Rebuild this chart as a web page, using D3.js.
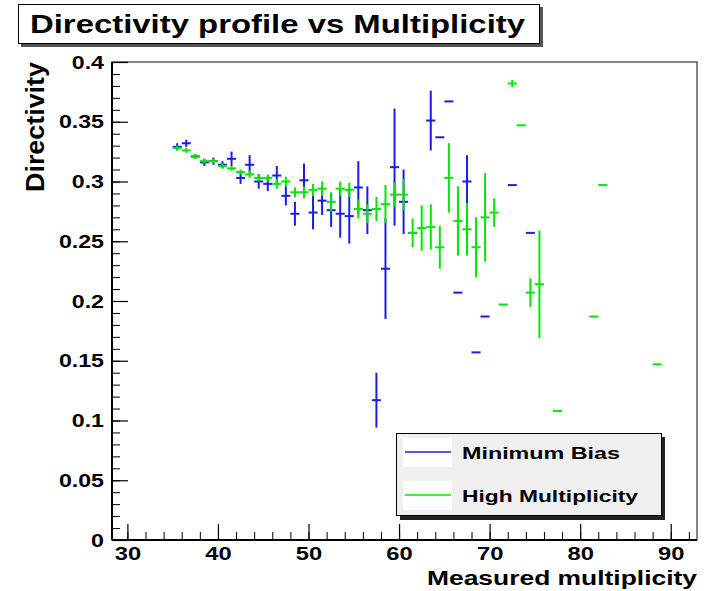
<!DOCTYPE html>
<html><head><meta charset="utf-8">
<script src="https://cdn.jsdelivr.net/npm/d3@7"></script>
<style>
body{margin:0;background:#fff}
text{font-family:"Liberation Sans",Arial,Helvetica,sans-serif;font-weight:bold;fill:#000}
</style>
</head><body>
<svg id="c" width="706" height="591"></svg>
<script>
// ---- data ----
const mbX = [35.5,36.5,37.5,38.5,39.5,40.5,41.5,42.5,43.5,44.5,45.5,46.5,47.5,48.5,49.5,50.5,51.5,52.5,53.5,54.5,55.5,56.5,57.5,58.5,59.5,60.5,61.5,63.5,64.5,65.5,66.5,67.5,68.5,69.5,72.5,74.5];
const mbY = [0.329,0.332,0.321,0.316,0.317,0.314,0.319,0.303,0.314,0.300,0.298,0.305,0.288,0.273,0.301,0.274,0.284,0.276,0.273,0.271,0.295,0.276,0.117,0.227,0.312,0.283,0.257,0.351,0.337,0.367,0.207,0.300,0.157,0.187,0.297,0.257];
const mbErr = [0.003,0.003,0.002,0.003,0.003,0.003,0.006,0.005,0.008,0.006,0.006,0.008,0.008,0.010,0.014,0.014,0.012,0.014,0.020,0.023,0.022,0.020,0.023,0.042,0.049,0.027,0,0.025,0,0,0,0.022,0,0,0,0];

const hmX = [35.5,36.5,37.5,38.5,39.5,40.5,41.5,42.5,43.5,44.5,45.5,46.5,47.5,48.5,49.5,50.5,51.5,52.5,53.5,54.5,55.5,56.5,57.5,58.5,59.5,60.5,61.5,62.5,63.5,64.5,65.5,66.5,67.5,68.5,69.5,70.5,71.5,72.5,73.5,74.5,75.5,77.5,81.5,82.5,88.5];
const hmY = [0.328,0.326,0.321,0.317,0.317,0.313,0.311,0.308,0.306,0.303,0.303,0.298,0.300,0.291,0.291,0.293,0.294,0.283,0.294,0.293,0.277,0.273,0.277,0.281,0.289,0.289,0.257,0.261,0.262,0.245,0.303,0.267,0.260,0.245,0.270,0.274,0.197,0.382,0.347,0.207,0.214,0.108,0.187,0.297,0.147];
const hmErr = [0.002,0.002,0.002,0.002,0.002,0.002,0.002,0.002,0.003,0.003,0.003,0.004,0.004,0.004,0.005,0.005,0.006,0.008,0.006,0.006,0.008,0.008,0.010,0.016,0.010,0.013,0.012,0.019,0.019,0.018,0.029,0.029,0.022,0.025,0.037,0.012,0,0.003,0,0.012,0.045,0,0,0,0];

const xTickValues = [30,40,50,60,70,80,90];
const xTickLabels = ["30","40","50","60","70","80","90"];
const yTickValues = [0,0.05,0.1,0.15,0.2,0.25,0.3,0.35,0.4];
const yTickLabels = ["0","0.05","0.1","0.15","0.2","0.25","0.3","0.35","0.4"];
const seriesNames = ["Minimum Bias","High Multiplicity"];
const seriesColors = ["#1c1ce6","#00e800"];

// ---- layout ----
const svg = d3.select("#c");
const L = 112, R = 697, T = 62, B = 540;
const x = d3.scaleLinear().domain([28.3, 92.9]).range([L, R]);
const y = d3.scaleLinear().domain([0, 0.4]).range([B, T]);

function stretch(sel, k){
  sel.each(function(){
    const len = this.getComputedTextLength();
    this.setAttribute("textLength", len * k);
    this.setAttribute("lengthAdjust", "spacingAndGlyphs");
  });
}

// title box
svg.append("rect").attr("x", 21).attr("y", 7).attr("width", 522).attr("height", 40).attr("fill", "#555");
svg.append("rect").attr("x", 18.5).attr("y", 4.5).attr("width", 521).attr("height", 39).attr("fill", "#fff").attr("stroke", "#000").attr("stroke-width", 1);
svg.append("text").attr("x", 30).attr("y", 33).attr("font-size", 25).attr("textLength", 495).attr("lengthAdjust", "spacingAndGlyphs")
  .text("Directivity profile vs Multiplicity");

// frame
svg.append("rect").attr("x", L).attr("y", T).attr("width", R - L).attr("height", B - T)
  .attr("fill", "none").attr("stroke", "#333").attr("stroke-width", 1.2);

// minor ticks
const xMinor = d3.range(30, 93, 2);
const yMinor = d3.range(0, 0.4001, 0.01);
svg.append("g").attr("transform", `translate(0,${B})`)
  .call(d3.axisBottom(x).tickValues(xMinor).tickSize(-8).tickFormat(""))
  .call(g => g.select(".domain").remove())
  .selectAll("line").attr("stroke", "#000").attr("stroke-width", 1);
svg.append("g").attr("transform", `translate(${L},0)`)
  .call(d3.axisLeft(y).tickValues(yMinor).tickSize(-8).tickFormat(""))
  .call(g => g.select(".domain").remove())
  .selectAll("line").attr("stroke", "#000").attr("stroke-width", 1);

// major axes
const gx = svg.append("g").attr("transform", `translate(0,${B})`)
  .call(d3.axisBottom(x).tickValues(xTickValues).tickSize(-16).tickPadding(7)
    .tickFormat((d, i) => xTickLabels[i]));
gx.select(".domain").attr("d", `M${L},0H${R}`).attr("stroke", "#000").attr("stroke-width", 2);
gx.selectAll("line").attr("stroke", "#000").attr("stroke-width", 1.2);
gx.selectAll("text").attr("font-size", 19).attr("font-family", null).attr("dy", "0.74em").attr("y", 6);
stretch(gx.selectAll("text"), 1.25);

const gy = svg.append("g").attr("transform", `translate(${L},0)`)
  .call(d3.axisLeft(y).tickValues(yTickValues).tickSize(-16).tickPadding(8)
    .tickFormat((d, i) => yTickLabels[i]));
gy.select(".domain").attr("d", `M0,${T}V${B}`).attr("stroke", "#000").attr("stroke-width", 2);
gy.selectAll("line").attr("stroke", "#000").attr("stroke-width", 1.2);
gy.selectAll("text").attr("font-size", 19).attr("font-family", null).attr("x", -8);
stretch(gy.selectAll("text"), 1.22);

// axis titles
svg.append("text").attr("x", R).attr("y", 585).attr("text-anchor", "end").attr("font-size", 20)
  .attr("textLength", 270).attr("lengthAdjust", "spacingAndGlyphs").text("Measured multiplicity");
svg.append("text").attr("transform", `translate(44,${T}) rotate(-90)`).attr("text-anchor", "end")
  .attr("font-size", 25).attr("textLength", 130).attr("lengthAdjust", "spacingAndGlyphs").text("Directivity");

// data
function drawSeries(xs, ys, es, color){
  const g = svg.append("g");
  const pts = xs.map((d, i) => ({x: d, y: ys[i], e: es[i]}));
  g.selectAll("line.h").data(pts).join("line").attr("class", "h")
    .attr("x1", d => x(d.x - 0.5)).attr("x2", d => x(d.x + 0.5))
    .attr("y1", d => y(d.y)).attr("y2", d => y(d.y))
    .attr("stroke", color).attr("stroke-width", 2);
  g.selectAll("line.v").data(pts.filter(d => d.e > 0)).join("line").attr("class", "v")
    .attr("x1", d => x(d.x)).attr("x2", d => x(d.x))
    .attr("y1", d => y(d.y - d.e)).attr("y2", d => y(d.y + d.e))
    .attr("stroke", color).attr("stroke-width", 2);
}
drawSeries(mbX, mbY, mbErr, seriesColors[0]);
drawSeries(hmX, hmY, hmErr, seriesColors[1]);

// legend
const lg = svg.append("g");
lg.append("rect").attr("x", 400).attr("y", 437).attr("width", 265).attr("height", 83).attr("fill", "#222");
lg.append("rect").attr("x", 396.5).attr("y", 433.5).attr("width", 265).attr("height", 82).attr("fill", "#f0f0f0").attr("stroke", "#000").attr("stroke-width", 1);
const legY = [452, 495];
const legLen = [158, 176];
seriesNames.forEach((name, i) => {
  lg.append("rect").attr("x", 403).attr("y", legY[i] - 14).attr("width", 49).attr("height", 29).attr("fill", "#fff");
  lg.append("line").attr("x1", 405).attr("x2", 451).attr("y1", legY[i]).attr("y2", legY[i])
    .attr("stroke", seriesColors[i]).attr("stroke-width", 1.3);
  lg.append("text").attr("x", 462).attr("y", legY[i] + 7).attr("font-size", 17)
    .attr("textLength", legLen[i]).attr("lengthAdjust", "spacingAndGlyphs").text(name);
});
</script>
</body></html>
